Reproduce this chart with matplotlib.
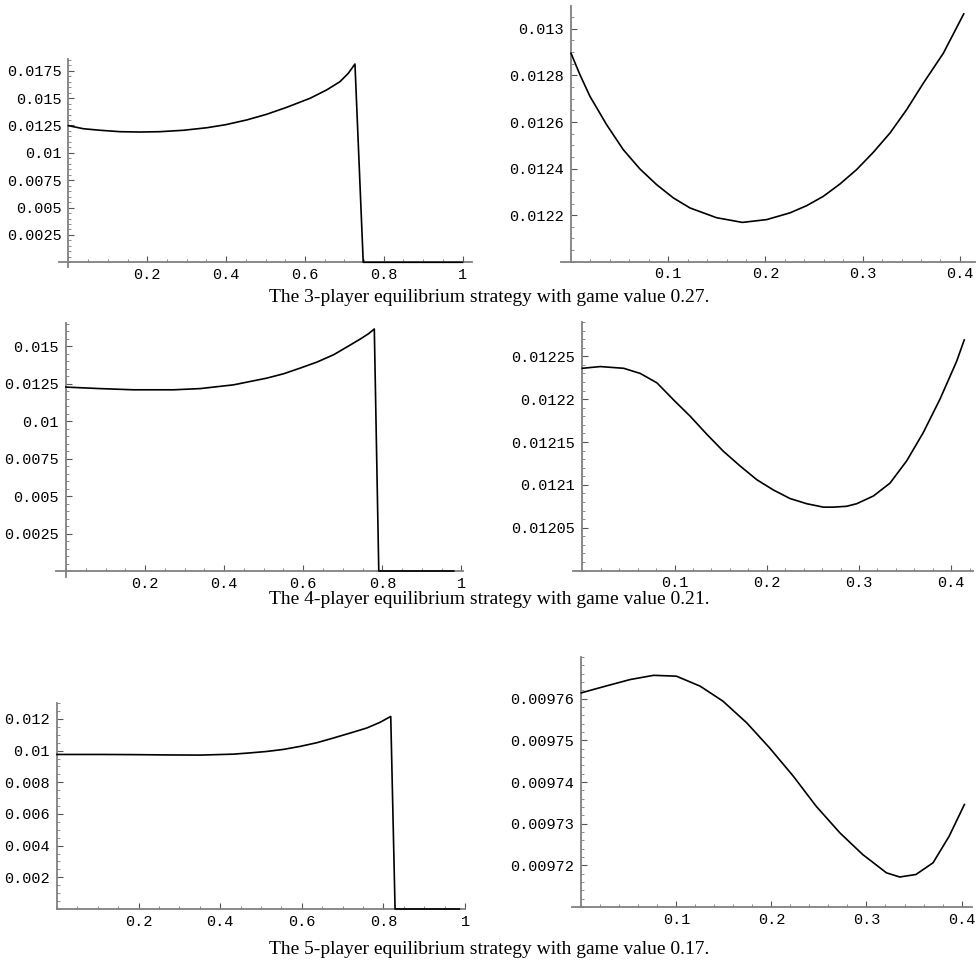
import numpy as np
import matplotlib.pyplot as plt
from matplotlib.ticker import FixedLocator, FixedFormatter, MultipleLocator

# values
x1 = [0, 0.038, 0.0804, 0.131, 0.182, 0.232, 0.292, 0.351, 0.399, 0.452, 0.503, 0.554, 0.613, 0.655,
      0.689, 0.71, 0.727, 0.748, 1.0]
y1 = [0.01248, 0.0122, 0.01206, 0.01193, 0.0119, 0.01193, 0.01206, 0.01229, 0.01257, 0.013, 0.01352,
      0.01416, 0.01498, 0.01574, 0.0165, 0.01726, 0.01811, 0, 0]

x2 = [0, 0.0093, 0.0195, 0.0367, 0.0538, 0.071, 0.0881, 0.1053, 0.1224, 0.1498, 0.1763, 0.2013, 0.2253,
      0.2425, 0.2596, 0.2767, 0.2939, 0.311, 0.3282, 0.3453, 0.3625, 0.383, 0.404]
y2 = [0.012895, 0.012802, 0.01271, 0.012588, 0.012481, 0.012398, 0.012331, 0.012274, 0.012231, 0.012189,
      0.012169, 0.012181, 0.01221, 0.012241, 0.012281, 0.012334, 0.012396, 0.01247, 0.012553, 0.012653,
      0.012767, 0.012895, 0.013064]

x3 = [0, 0.0861, 0.1706, 0.272, 0.3392, 0.4236, 0.508, 0.5502, 0.5924, 0.6346, 0.6768, 0.7105, 0.7443,
      0.7654, 0.7797, 0.791, 0.9806]
y3 = [0.01228, 0.01218, 0.0121, 0.0121, 0.01218, 0.01243, 0.01288, 0.01317, 0.01355, 0.01395, 0.01444,
      0.01496, 0.01549, 0.01585, 0.01616, 0, 0]

x4 = [0, 0.0195, 0.0448, 0.0628, 0.0809, 0.1, 0.117, 0.135, 0.1531, 0.1711, 0.1892, 0.2072, 0.2253,
      0.2433, 0.2614, 0.2722, 0.2866, 0.2975, 0.3156, 0.3336, 0.3517, 0.3697, 0.3878, 0.4058, 0.4141]
y4 = [0.012236, 0.012238, 0.012236, 0.01223, 0.012219, 0.012198, 0.01218, 0.012159, 0.012139, 0.012122,
      0.012106, 0.012094, 0.012084, 0.012078, 0.012074, 0.012074, 0.012075, 0.012078, 0.012087, 0.012102,
      0.012128, 0.012161, 0.0122, 0.012244, 0.012269]

x5 = [0, 0.106, 0.1877, 0.2693, 0.351, 0.4326, 0.4735, 0.5143, 0.5551, 0.596, 0.6367, 0.6776, 0.7184,
      0.7592, 0.7918, 0.818, 0.8286, 0.986]
y5 = [0.00976, 0.00976, 0.00975, 0.00973, 0.00972, 0.00978, 0.00986, 0.00995, 0.01008, 0.01027, 0.0105,
      0.0108, 0.01111, 0.01143, 0.01179, 0.01216, 0, 0]

x6 = [0, 0.027, 0.0516, 0.076, 0.1, 0.125, 0.149, 0.174, 0.198, 0.223, 0.247, 0.272, 0.296, 0.321,
      0.335, 0.352, 0.37, 0.387, 0.403]
y6 = [0.0097614, 0.0097631, 0.0097646, 0.0097656, 0.0097654, 0.009763, 0.0097594, 0.0097542, 0.0097482,
      0.0097414, 0.0097342, 0.0097278, 0.0097226, 0.0097182, 0.0097172, 0.0097178, 0.0097206, 0.009727,
      0.0097346]

xt_full = [0.2, 0.4, 0.6, 0.8, 1.0]
xl_full = ["0.2", "0.4", "0.6", "0.8", "1"]
xt_zoom = [0.1, 0.2, 0.3, 0.4]
xl_zoom = ["0.1", "0.2", "0.3", "0.4"]

yt1 = [0.0025, 0.005, 0.0075, 0.01, 0.0125, 0.015, 0.0175]
yl1 = ["0.0025", "0.005", "0.0075", "0.01", "0.0125", "0.015", "0.0175"]
yt2 = [0.0122, 0.0124, 0.0126, 0.0128, 0.013]
yl2 = ["0.0122", "0.0124", "0.0126", "0.0128", "0.013"]
yt3 = [0.0025, 0.005, 0.0075, 0.01, 0.0125, 0.015]
yl3 = ["0.0025", "0.005", "0.0075", "0.01", "0.0125", "0.015"]
yt4 = [0.01205, 0.0121, 0.01215, 0.0122, 0.01225]
yl4 = ["0.01205", "0.0121", "0.01215", "0.0122", "0.01225"]
yt5 = [0.002, 0.004, 0.006, 0.008, 0.01, 0.012]
yl5 = ["0.002", "0.004", "0.006", "0.008", "0.01", "0.012"]
yt6 = [0.00972, 0.00973, 0.00974, 0.00975, 0.00976]
yl6 = ["0.00972", "0.00973", "0.00974", "0.00975", "0.00976"]

captions = ["The 3-player equilibrium strategy with game value 0.27.",
            "The 4-player equilibrium strategy with game value 0.21.",
            "The 5-player equilibrium strategy with game value 0.17."]

W, H = 976, 961
fig = plt.figure(figsize=(W / 100, H / 100), dpi=100)
AX = '#808080'


def panel(box, xlim, ylim, y0, x, y, xt, xl, yt, yl, xminor, yminor):
    l, t, r, b = box
    ax = fig.add_axes([l / W, 1 - b / H, (r - l) / W, (b - t) / H])
    ax.plot(x, y, color='black', lw=1.2, solid_joinstyle='round', zorder=3, clip_on=False)
    ax.set_xlim(*xlim)
    ax.set_ylim(*ylim)
    for s in ['top', 'right']:
        ax.spines[s].set_visible(False)
    ax.spines['left'].set_position(('data', 0))
    ax.spines['bottom'].set_position(('data', y0))
    for s in ['left', 'bottom']:
        ax.spines[s].set_color(AX)
        ax.spines[s].set_linewidth(1.3)
    ax.xaxis.set_major_locator(FixedLocator(xt))
    ax.xaxis.set_major_formatter(FixedFormatter(xl))
    ax.yaxis.set_major_locator(FixedLocator(yt))
    ax.yaxis.set_major_formatter(FixedFormatter(yl))
    ax.xaxis.set_minor_locator(MultipleLocator(xminor))
    ax.yaxis.set_minor_locator(MultipleLocator(yminor))
    ax.tick_params(which='major', direction='in', length=4, width=0.8, color='#555555',
                   labelsize=11)
    ax.tick_params(axis='x', which='major', pad=4)
    ax.tick_params(axis='y', which='major', pad=5)
    ax.tick_params(which='minor', direction='in', length=2, width=0.6, color='#777777')
    for lab in ax.get_xticklabels() + ax.get_yticklabels():
        lab.set_family('Liberation Mono')
    ax.patch.set_alpha(0)
    return ax


panel((59, 59, 472, 267), (-0.024, 1.024), (-0.00043, 0.01857), 0, x1, y1,
      xt_full, xl_full, yt1, yl1, 0.05, 0.0005)
panel((561, 6, 975, 262), (-0.0103, 0.4156), (0.011999, 0.013098), 0.0120, x2, y2,
      xt_zoom, xl_zoom, yt2, yl2, 0.02, 0.00005)
panel((56, 323, 463, 577), (-0.0253, 1.004), (-0.0004, 0.01656), 0, x3, y3,
      xt_full, xl_full, yt3, yl3, 0.05, 0.0005)
panel((573, 322, 973, 571), (-0.0101, 0.4236), (0.0119995, 0.01229), 0.0120, x4, y4,
      xt_zoom, xl_zoom, yt4, yl4, 0.02, 0.00001)
panel((57, 703, 465, 909), (0, 1.0), (0, 0.01301), 0, x5, y5,
      xt_full, xl_full, yt5, yl5, 0.05, 0.0005)
panel((572, 657, 972, 907), (-0.0098, 0.411), (0.00971, 0.00977), 0.00971, x6, y6,
      xt_zoom, xl_zoom, yt6, yl6, 0.02, 0.000002)

for cy, txt in zip([297, 599, 949], captions):
    fig.text(489 / W, 1 - cy / H, txt, ha='center', va='center',
             family='Liberation Serif', fontsize=14)

fig.savefig('out.png', dpi=100)
